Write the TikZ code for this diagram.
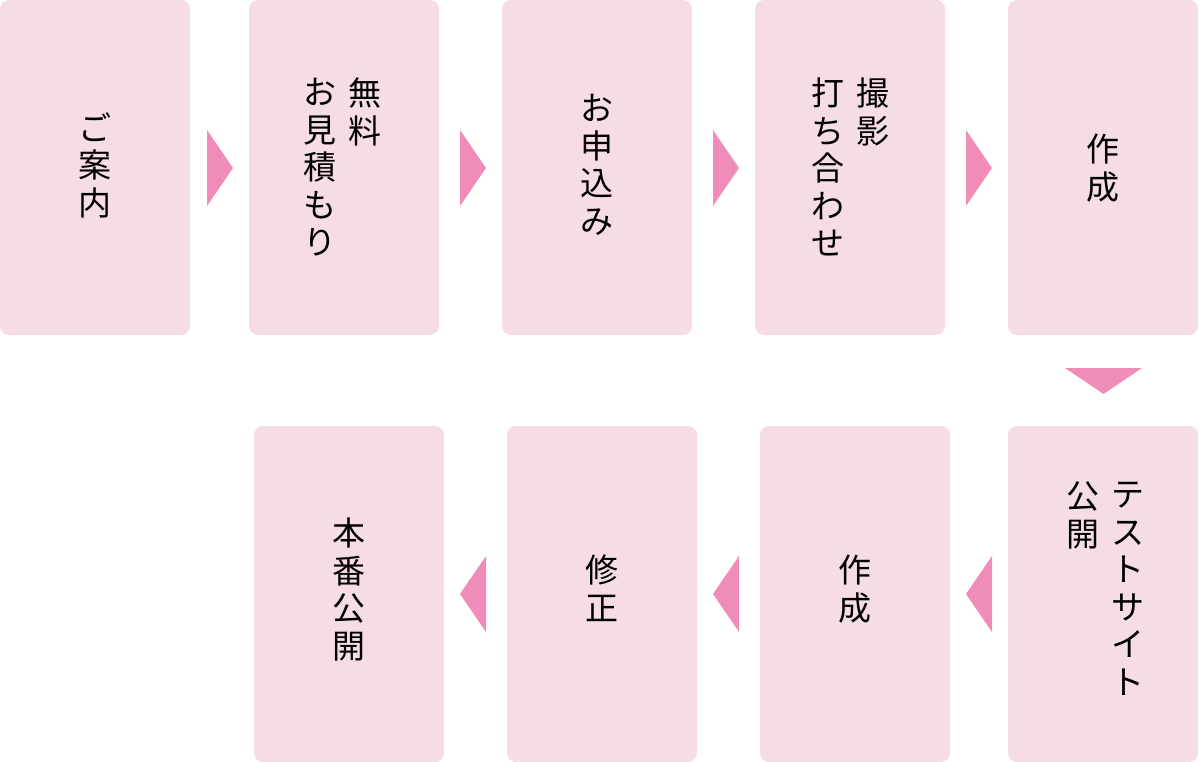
\documentclass[tikz,border=0pt]{standalone}
\usepackage{fontspec}
\newfontfamily\jp{Noto Sans CJK JP}
\begin{document}
\begin{tikzpicture}[x=1pt,y=-1pt,
  box/.style={fill=boxc,rounded corners=9pt},
  arr/.style={fill=arrc},
  col/.style={anchor=north,align=center,inner sep=0pt,font=\jp\fontsize{33}{37.5}\selectfont}]
\definecolor{boxc}{HTML}{F5DCE6}
\definecolor{arrc}{HTML}{F08CB8}
\useasboundingbox (0,0) rectangle (1200,762);
% top row
\foreach \x/\n in {0/a,249/b,502/c,755/d,1008/e}
  \fill[box] (\x,0) rectangle ++(190,335);
\foreach \x/\n in {254/f,507/g,760/h,1008/i}
  \fill[box] (\x,426) rectangle ++(190,336);
% arrows
\foreach \x in {207,460,713,966}
  \fill[arr] (\x,130) -- (\x+26,168) -- (\x,206) -- cycle;
\fill[arr] (1065,368) -- (1142,368) -- (1103.5,394) -- cycle;
\foreach \x in {460,713,966}
  \fill[arr] (\x+26,556) -- (\x,594) -- (\x+26,632) -- cycle;
% texts
\node[col] (t1) at (95,112) {ご\\案\\内};
\node[col] (t2a) at (365,78) {無\\料};
\node[col] (t2b) at (320,78) {お\\見\\積\\も\\り};
\node[col] (t3) at (597,94) {お\\申\\込\\み};
\node[col] (t4a) at (873,78) {撮\\影};
\node[col] (t4b) at (828,78) {打\\ち\\合\\わ\\せ};
\node[col] (t5) at (1103,134) {作\\成};
\node[col] (t6a) at (1128,482) {テ\\ス\\ト\\サ\\イ\\ト};
\node[col] (t6b) at (1083,482) {公\\開};
\node[col] (t7) at (855,555) {作\\成};
\node[col] (t8) at (602,555) {修\\正};
\node[col] (t9) at (349,518) {本\\番\\公\\開};
\end{tikzpicture}
\end{document}
